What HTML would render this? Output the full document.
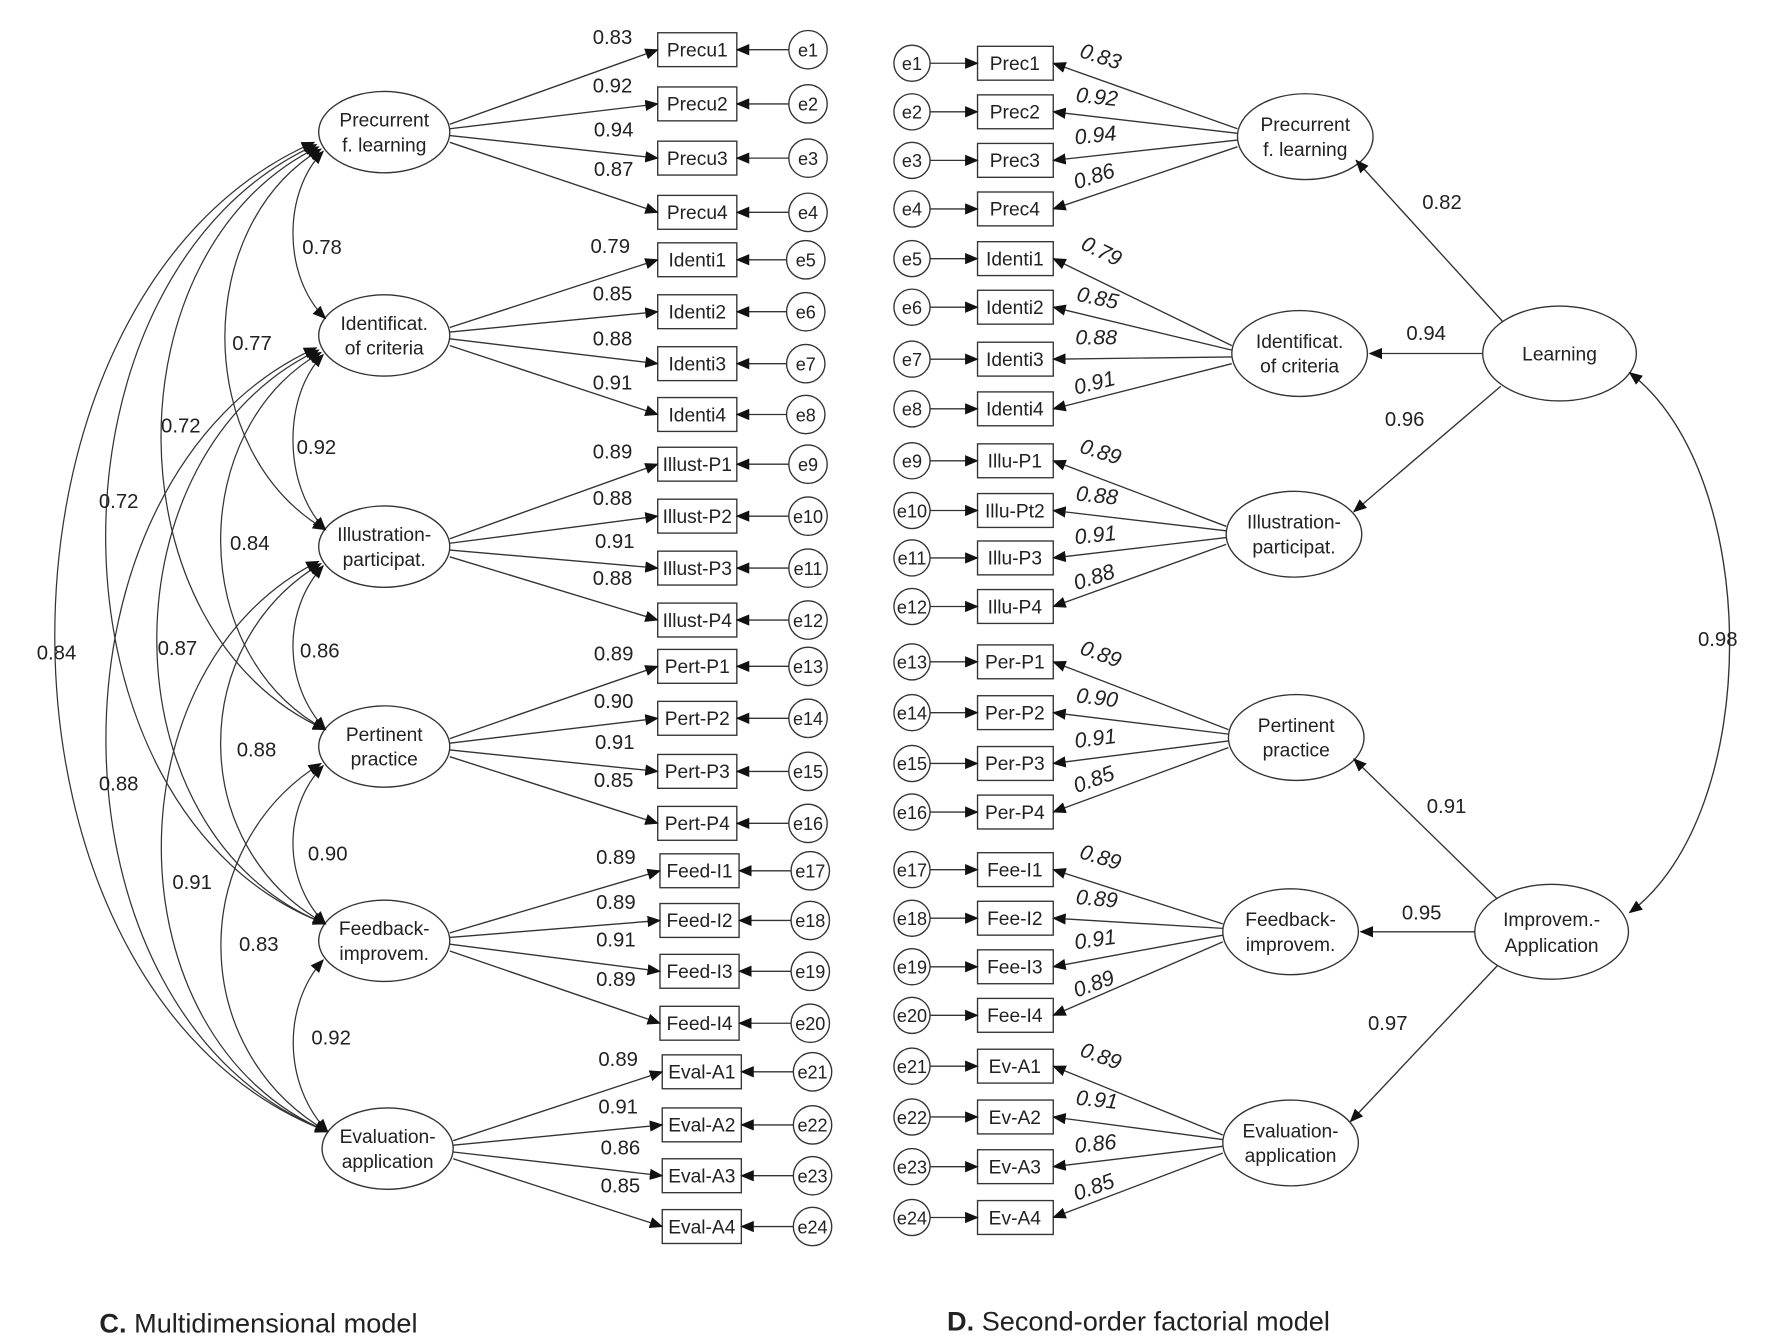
<!DOCTYPE html>
<html><head><meta charset="utf-8"><style>
html,body{margin:0;padding:0;background:#fff;}
svg{display:block;}
text{font-family:"Liberation Sans",Arial,sans-serif;fill:#222;}
.n{font-size:17px;text-anchor:middle;}
.l{font-size:18px;text-anchor:middle;}
.i{font-size:19px;font-style:italic;text-anchor:middle;}
.e{font-size:16px;text-anchor:middle;}
</style></head><body>
<svg width="1772" height="1344" viewBox="0 0 1568 1190" preserveAspectRatio="none" xmlns="http://www.w3.org/2000/svg">
<defs>
<marker id="a" markerWidth="12" markerHeight="10" refX="11" refY="5" orient="auto-start-reverse" markerUnits="userSpaceOnUse"><path d="M0,0 L12,5 L0,10 z" fill="#111"/></marker>
</defs>
<g stroke="#333" stroke-width="1.2" fill="none">
<!-- LEFT latent ellipses -->
<ellipse cx="340" cy="117" rx="58" ry="36"/>
<ellipse cx="340" cy="297" rx="58" ry="36"/>
<ellipse cx="340" cy="484" rx="58" ry="36"/>
<ellipse cx="340" cy="661" rx="58" ry="36"/>
<ellipse cx="340" cy="833" rx="58" ry="36"/>
<ellipse cx="343" cy="1017" rx="58" ry="36"/>
<!-- left boxes -->
<rect x="582" y="29" width="70" height="30"/><rect x="582" y="77" width="70" height="30"/><rect x="582" y="125" width="70" height="30"/><rect x="582" y="173" width="70" height="30"/>
<rect x="582" y="215" width="70" height="30"/><rect x="582" y="261" width="70" height="30"/><rect x="582" y="307" width="70" height="30"/><rect x="582" y="352" width="70" height="30"/>
<rect x="582" y="396" width="70" height="30"/><rect x="582" y="442" width="70" height="30"/><rect x="582" y="488" width="70" height="30"/><rect x="582" y="534" width="70" height="30"/>
<rect x="582" y="575" width="70" height="30"/><rect x="582" y="621" width="70" height="30"/><rect x="582" y="668" width="70" height="30"/><rect x="582" y="714" width="70" height="30"/>
<rect x="584" y="756" width="70" height="30"/><rect x="584" y="800" width="70" height="30"/><rect x="584" y="845" width="70" height="30"/><rect x="584" y="891" width="70" height="30"/>
<rect x="586" y="934" width="70" height="30"/><rect x="586" y="981" width="70" height="30"/><rect x="586" y="1026" width="70" height="30"/><rect x="586" y="1071" width="70" height="30"/>
<!-- left error circles -->
<circle cx="715" cy="44" r="17"/><circle cx="715" cy="92" r="17"/><circle cx="715" cy="140" r="17"/><circle cx="715" cy="188" r="17"/>
<circle cx="713" cy="230" r="17"/><circle cx="713" cy="276" r="17"/><circle cx="713" cy="322" r="17"/><circle cx="713" cy="367" r="17"/>
<circle cx="715" cy="411" r="17"/><circle cx="715" cy="457" r="17"/><circle cx="715" cy="503" r="17"/><circle cx="715" cy="549" r="17"/>
<circle cx="715" cy="590" r="17"/><circle cx="715" cy="636" r="17"/><circle cx="715" cy="683" r="17"/><circle cx="715" cy="729" r="17"/>
<circle cx="717" cy="771" r="17"/><circle cx="717" cy="815" r="17"/><circle cx="717" cy="860" r="17"/><circle cx="717" cy="906" r="17"/>
<circle cx="719" cy="949" r="17"/><circle cx="719" cy="996" r="17"/><circle cx="719" cy="1041" r="17"/><circle cx="719" cy="1086" r="17"/>
</g>
<g stroke="#333" stroke-width="1.2" fill="none" marker-end="url(#a)">
<!-- left loadings -->
<path d="M398,110 L582,44"/><path d="M398,114 L582,92"/><path d="M398,120 L582,140"/><path d="M398,126 L582,188"/>
<path d="M398,290 L582,230"/><path d="M398,294 L582,276"/><path d="M398,300 L582,322"/><path d="M398,306 L582,367"/>
<path d="M398,477 L582,411"/><path d="M398,481 L582,457"/><path d="M398,487 L582,503"/><path d="M398,493 L582,549"/>
<path d="M398,654 L582,590"/><path d="M398,658 L582,636"/><path d="M398,664 L582,683"/><path d="M398,670 L582,729"/>
<path d="M398,826 L584,771"/><path d="M398,830 L584,815"/><path d="M398,836 L584,860"/><path d="M398,842 L584,906"/>
<path d="M401,1010 L586,949"/><path d="M401,1014 L586,996"/><path d="M401,1020 L586,1041"/><path d="M401,1026 L586,1086"/>
<!-- left error arrows -->
<path d="M698,44 L652,44"/><path d="M698,92 L652,92"/><path d="M698,140 L652,140"/><path d="M698,188 L652,188"/>
<path d="M696,230 L652,230"/><path d="M696,276 L652,276"/><path d="M696,322 L652,322"/><path d="M696,367 L652,367"/>
<path d="M698,411 L652,411"/><path d="M698,457 L652,457"/><path d="M698,503 L652,503"/><path d="M698,549 L652,549"/>
<path d="M698,590 L652,590"/><path d="M698,636 L652,636"/><path d="M698,683 L652,683"/><path d="M698,729 L652,729"/>
<path d="M700,771 L654,771"/><path d="M700,815 L654,815"/><path d="M700,860 L654,860"/><path d="M700,906 L654,906"/>
<path d="M702,949 L656,949"/><path d="M702,996 L656,996"/><path d="M702,1041 L656,1041"/><path d="M702,1086 L656,1086"/>
</g>
<!-- covariance arcs -->
<g stroke="#333" stroke-width="1.1" fill="none" marker-start="url(#a)" marker-end="url(#a)">
<path d="M286,134 C250,170 250,245 288,282"/>
<path d="M286,314 C250,350 250,430 288,469"/>
<path d="M286,501 C250,540 250,605 288,646"/>
<path d="M286,678 C250,715 250,780 288,818"/>
<path d="M286,850 C250,890 250,960 290,1002"/>
<path d="M284,132 C170,200 170,400 288,469"/>
<path d="M284,312 C165,380 165,580 288,646"/>
<path d="M284,499 C165,570 165,750 288,818"/>
<path d="M284,676 C165,750 165,930 290,1002"/>
<path d="M282,130 C95,220 95,560 288,646"/>
<path d="M282,310 C90,400 90,740 288,818"/>
<path d="M282,497 C95,590 95,920 290,1002"/>
<path d="M280,128 C30,240 30,720 288,818"/>
<path d="M280,308 C30,420 30,900 290,1002"/>
<path d="M278,126 C-30,260 -30,880 290,1002"/>
</g>
<!-- left latent texts -->
<text class="n" x="340" y="112">Precurrent</text><text class="n" x="340" y="134">f. learning</text>
<text class="n" x="340" y="292">Identificat.</text><text class="n" x="340" y="314">of criteria</text>
<text class="n" x="340" y="479">Illustration-</text><text class="n" x="340" y="501">participat.</text>
<text class="n" x="340" y="656">Pertinent</text><text class="n" x="340" y="678">practice</text>
<text class="n" x="340" y="828">Feedback-</text><text class="n" x="340" y="850">improvem.</text>
<text class="n" x="343" y="1012">Evaluation-</text><text class="n" x="343" y="1034">application</text>
<!-- left box texts -->
<g class="n">
<text class="n" x="617" y="50">Precu1</text><text class="n" x="617" y="98">Precu2</text><text class="n" x="617" y="146">Precu3</text><text class="n" x="617" y="194">Precu4</text>
<text class="n" x="617" y="236">Identi1</text><text class="n" x="617" y="282">Identi2</text><text class="n" x="617" y="328">Identi3</text><text class="n" x="617" y="373">Identi4</text>
<text class="n" x="617" y="417">Illust-P1</text><text class="n" x="617" y="463">Illust-P2</text><text class="n" x="617" y="509">Illust-P3</text><text class="n" x="617" y="555">Illust-P4</text>
<text class="n" x="617" y="596">Pert-P1</text><text class="n" x="617" y="642">Pert-P2</text><text class="n" x="617" y="689">Pert-P3</text><text class="n" x="617" y="735">Pert-P4</text>
<text class="n" x="619" y="777">Feed-I1</text><text class="n" x="619" y="821">Feed-I2</text><text class="n" x="619" y="866">Feed-I3</text><text class="n" x="619" y="912">Feed-I4</text>
<text class="n" x="621" y="955">Eval-A1</text><text class="n" x="621" y="1002">Eval-A2</text><text class="n" x="621" y="1047">Eval-A3</text><text class="n" x="621" y="1092">Eval-A4</text>
</g>
<!-- left error texts -->
<text class="e" x="715" y="50">e1</text><text class="e" x="715" y="98">e2</text><text class="e" x="715" y="146">e3</text><text class="e" x="715" y="194">e4</text>
<text class="e" x="713" y="236">e5</text><text class="e" x="713" y="282">e6</text><text class="e" x="713" y="328">e7</text><text class="e" x="713" y="373">e8</text>
<text class="e" x="715" y="417">e9</text><text class="e" x="715" y="463">e10</text><text class="e" x="715" y="509">e11</text><text class="e" x="715" y="555">e12</text>
<text class="e" x="715" y="596">e13</text><text class="e" x="715" y="642">e14</text><text class="e" x="715" y="689">e15</text><text class="e" x="715" y="735">e16</text>
<text class="e" x="717" y="777">e17</text><text class="e" x="717" y="821">e18</text><text class="e" x="717" y="866">e19</text><text class="e" x="717" y="912">e20</text>
<text class="e" x="719" y="955">e21</text><text class="e" x="719" y="1002">e22</text><text class="e" x="719" y="1047">e23</text><text class="e" x="719" y="1092">e24</text>
<!-- left loading labels -->
<text class="l" x="542" y="39">0.83</text><text class="l" x="542" y="82">0.92</text><text class="l" x="543" y="121">0.94</text><text class="l" x="543" y="156">0.87</text>
<text class="l" x="540" y="224">0.79</text><text class="l" x="542" y="266">0.85</text><text class="l" x="542" y="306">0.88</text><text class="l" x="542" y="345">0.91</text>
<text class="l" x="542" y="406">0.89</text><text class="l" x="542" y="447">0.88</text><text class="l" x="544" y="485">0.91</text><text class="l" x="542" y="518">0.88</text>
<text class="l" x="543" y="585">0.89</text><text class="l" x="543" y="627">0.90</text><text class="l" x="544" y="663">0.91</text><text class="l" x="543" y="697">0.85</text>
<text class="l" x="545" y="765">0.89</text><text class="l" x="545" y="805">0.89</text><text class="l" x="545" y="838">0.91</text><text class="l" x="545" y="873">0.89</text>
<text class="l" x="547" y="944">0.89</text><text class="l" x="547" y="986">0.91</text><text class="l" x="549" y="1022">0.86</text><text class="l" x="549" y="1056">0.85</text>
<!-- covariance labels -->
<text class="l" x="285" y="225">0.78</text><text class="l" x="280" y="402">0.92</text><text class="l" x="283" y="582">0.86</text><text class="l" x="290" y="762">0.90</text><text class="l" x="293" y="925">0.92</text>
<text class="l" x="223" y="310">0.77</text><text class="l" x="221" y="487">0.84</text><text class="l" x="227" y="670">0.88</text><text class="l" x="229" y="842">0.83</text>
<text class="l" x="160" y="383">0.72</text><text class="l" x="157" y="580">0.87</text><text class="l" x="170" y="787">0.91</text>
<text class="l" x="105" y="450">0.72</text><text class="l" x="105" y="700">0.88</text>
<text class="l" x="50" y="584">0.84</text>

<!-- RIGHT MODEL -->
<g stroke="#333" stroke-width="1.2" fill="none">
<ellipse cx="1155" cy="121" rx="60" ry="38"/>
<ellipse cx="1150" cy="313" rx="60" ry="38"/>
<ellipse cx="1145" cy="473" rx="60" ry="38"/>
<ellipse cx="1147" cy="653" rx="60" ry="38"/>
<ellipse cx="1142" cy="825" rx="60" ry="38"/>
<ellipse cx="1142" cy="1012" rx="60" ry="38"/>
<ellipse cx="1380" cy="313" rx="68" ry="42"/>
<ellipse cx="1373" cy="825" rx="68" ry="42"/>
<rect x="865" y="41" width="67" height="30"/><rect x="865" y="84" width="67" height="30"/><rect x="865" y="127" width="67" height="30"/><rect x="865" y="170" width="67" height="30"/>
<rect x="865" y="214" width="67" height="30"/><rect x="865" y="257" width="67" height="30"/><rect x="865" y="303" width="67" height="30"/><rect x="865" y="347" width="67" height="30"/>
<rect x="865" y="393" width="67" height="30"/><rect x="865" y="437" width="67" height="30"/><rect x="865" y="479" width="67" height="30"/><rect x="865" y="522" width="67" height="30"/>
<rect x="865" y="571" width="67" height="30"/><rect x="865" y="616" width="67" height="30"/><rect x="865" y="661" width="67" height="30"/><rect x="865" y="704" width="67" height="30"/>
<rect x="865" y="755" width="67" height="30"/><rect x="865" y="798" width="67" height="30"/><rect x="865" y="841" width="67" height="30"/><rect x="865" y="884" width="67" height="30"/>
<rect x="865" y="929" width="67" height="30"/><rect x="865" y="974" width="67" height="30"/><rect x="865" y="1018" width="67" height="30"/><rect x="865" y="1063" width="67" height="30"/>
<circle cx="807" cy="56" r="16"/><circle cx="807" cy="99" r="16"/><circle cx="807" cy="142" r="16"/><circle cx="807" cy="185" r="16"/>
<circle cx="807" cy="229" r="16"/><circle cx="807" cy="272" r="16"/><circle cx="807" cy="318" r="16"/><circle cx="807" cy="362" r="16"/>
<circle cx="807" cy="408" r="16"/><circle cx="807" cy="452" r="16"/><circle cx="807" cy="494" r="16"/><circle cx="807" cy="537" r="16"/>
<circle cx="807" cy="586" r="16"/><circle cx="807" cy="631" r="16"/><circle cx="807" cy="676" r="16"/><circle cx="807" cy="719" r="16"/>
<circle cx="807" cy="770" r="16"/><circle cx="807" cy="813" r="16"/><circle cx="807" cy="856" r="16"/><circle cx="807" cy="899" r="16"/>
<circle cx="807" cy="944" r="16"/><circle cx="807" cy="989" r="16"/><circle cx="807" cy="1033" r="16"/><circle cx="807" cy="1078" r="16"/>
</g>
<g stroke="#333" stroke-width="1.2" fill="none" marker-end="url(#a)">
<path d="M823,56 L865,56"/><path d="M823,99 L865,99"/><path d="M823,142 L865,142"/><path d="M823,185 L865,185"/>
<path d="M823,229 L865,229"/><path d="M823,272 L865,272"/><path d="M823,318 L865,318"/><path d="M823,362 L865,362"/>
<path d="M823,408 L865,408"/><path d="M823,452 L865,452"/><path d="M823,494 L865,494"/><path d="M823,537 L865,537"/>
<path d="M823,586 L865,586"/><path d="M823,631 L865,631"/><path d="M823,676 L865,676"/><path d="M823,719 L865,719"/>
<path d="M823,770 L865,770"/><path d="M823,813 L865,813"/><path d="M823,856 L865,856"/><path d="M823,899 L865,899"/>
<path d="M823,944 L865,944"/><path d="M823,989 L865,989"/><path d="M823,1033 L865,1033"/><path d="M823,1078 L865,1078"/>
<path d="M1095,114 L932,56"/><path d="M1095,118 L932,99"/><path d="M1095,124 L932,142"/><path d="M1095,130 L932,185"/>
<path d="M1090,306 L932,229"/><path d="M1090,310 L932,272"/><path d="M1090,316 L932,318"/><path d="M1090,322 L932,362"/>
<path d="M1085,466 L932,408"/><path d="M1085,470 L932,452"/><path d="M1085,476 L932,494"/><path d="M1085,482 L932,537"/>
<path d="M1087,646 L932,586"/><path d="M1087,650 L932,631"/><path d="M1087,656 L932,676"/><path d="M1087,662 L932,719"/>
<path d="M1082,818 L932,770"/><path d="M1082,822 L932,813"/><path d="M1082,828 L932,856"/><path d="M1082,834 L932,899"/>
<path d="M1082,1005 L932,944"/><path d="M1082,1009 L932,989"/><path d="M1082,1015 L932,1033"/><path d="M1082,1021 L932,1078"/>
<path d="M1330,285 L1200,142"/>
<path d="M1312,313 L1212,313"/>
<path d="M1328,342 L1198,453"/>
<path d="M1325,796 L1198,672"/>
<path d="M1305,825 L1204,825"/>
<path d="M1325,855 L1195,993"/>
</g>
<path d="M1442,330 C1560,420 1560,720 1442,808" stroke="#333" stroke-width="1.2" fill="none" marker-start="url(#a)" marker-end="url(#a)"/>
<!-- right texts -->
<text class="n" x="1155" y="116">Precurrent</text><text class="n" x="1155" y="138">f. learning</text>
<text class="n" x="1150" y="308">Identificat.</text><text class="n" x="1150" y="330">of criteria</text>
<text class="n" x="1145" y="468">Illustration-</text><text class="n" x="1145" y="490">participat.</text>
<text class="n" x="1147" y="648">Pertinent</text><text class="n" x="1147" y="670">practice</text>
<text class="n" x="1142" y="820">Feedback-</text><text class="n" x="1142" y="842">improvem.</text>
<text class="n" x="1142" y="1007">Evaluation-</text><text class="n" x="1142" y="1029">application</text>
<text class="n" x="1380" y="319">Learning</text>
<text class="n" x="1373" y="820">Improvem.-</text><text class="n" x="1373" y="843">Application</text>
<text class="n" x="898" y="62">Prec1</text><text class="n" x="898" y="105">Prec2</text><text class="n" x="898" y="148">Prec3</text><text class="n" x="898" y="191">Prec4</text>
<text class="n" x="898" y="235">Identi1</text><text class="n" x="898" y="278">Identi2</text><text class="n" x="898" y="324">Identi3</text><text class="n" x="898" y="368">Identi4</text>
<text class="n" x="898" y="414">Illu-P1</text><text class="n" x="898" y="458">Illu-Pt2</text><text class="n" x="898" y="500">Illu-P3</text><text class="n" x="898" y="543">Illu-P4</text>
<text class="n" x="898" y="592">Per-P1</text><text class="n" x="898" y="637">Per-P2</text><text class="n" x="898" y="682">Per-P3</text><text class="n" x="898" y="725">Per-P4</text>
<text class="n" x="898" y="776">Fee-I1</text><text class="n" x="898" y="819">Fee-I2</text><text class="n" x="898" y="862">Fee-I3</text><text class="n" x="898" y="905">Fee-I4</text>
<text class="n" x="898" y="950">Ev-A1</text><text class="n" x="898" y="995">Ev-A2</text><text class="n" x="898" y="1039">Ev-A3</text><text class="n" x="898" y="1084">Ev-A4</text>
<text class="e" x="807" y="62">e1</text><text class="e" x="807" y="105">e2</text><text class="e" x="807" y="148">e3</text><text class="e" x="807" y="191">e4</text>
<text class="e" x="807" y="235">e5</text><text class="e" x="807" y="278">e6</text><text class="e" x="807" y="324">e7</text><text class="e" x="807" y="368">e8</text>
<text class="e" x="807" y="414">e9</text><text class="e" x="807" y="458">e10</text><text class="e" x="807" y="500">e11</text><text class="e" x="807" y="543">e12</text>
<text class="e" x="807" y="592">e13</text><text class="e" x="807" y="637">e14</text><text class="e" x="807" y="682">e15</text><text class="e" x="807" y="725">e16</text>
<text class="e" x="807" y="776">e17</text><text class="e" x="807" y="819">e18</text><text class="e" x="807" y="862">e19</text><text class="e" x="807" y="905">e20</text>
<text class="e" x="807" y="950">e21</text><text class="e" x="807" y="995">e22</text><text class="e" x="807" y="1039">e23</text><text class="e" x="807" y="1084">e24</text>
<!-- right italic loadings -->
<text class="i" transform="translate(972,56) rotate(18)">0.83</text>
<text class="i" transform="translate(970,92) rotate(6)">0.92</text>
<text class="i" transform="translate(970,126) rotate(-6)">0.94</text>
<text class="i" transform="translate(970,162) rotate(-18)">0.86</text>
<text class="i" transform="translate(972,228) rotate(26)">0.79</text>
<text class="i" transform="translate(970,270) rotate(12)">0.85</text>
<text class="i" transform="translate(970,305) rotate(0)">0.88</text>
<text class="i" transform="translate(970,345) rotate(-14)">0.91</text>
<text class="i" transform="translate(972,406) rotate(18)">0.89</text>
<text class="i" transform="translate(970,445) rotate(6)">0.88</text>
<text class="i" transform="translate(970,480) rotate(-6)">0.91</text>
<text class="i" transform="translate(970,517) rotate(-18)">0.88</text>
<text class="i" transform="translate(972,585) rotate(20)">0.89</text>
<text class="i" transform="translate(970,624) rotate(7)">0.90</text>
<text class="i" transform="translate(970,660) rotate(-7)">0.91</text>
<text class="i" transform="translate(970,696) rotate(-20)">0.85</text>
<text class="i" transform="translate(972,765) rotate(17)">0.89</text>
<text class="i" transform="translate(970,802) rotate(5)">0.89</text>
<text class="i" transform="translate(970,838) rotate(-8)">0.91</text>
<text class="i" transform="translate(970,877) rotate(-20)">0.89</text>
<text class="i" transform="translate(972,941) rotate(20)">0.89</text>
<text class="i" transform="translate(970,980) rotate(6)">0.91</text>
<text class="i" transform="translate(970,1019) rotate(-6)">0.86</text>
<text class="i" transform="translate(970,1057) rotate(-20)">0.85</text>
<!-- second order labels -->
<text class="l" x="1276" y="185">0.82</text>
<text class="l" x="1262" y="301">0.94</text>
<text class="l" x="1243" y="377">0.96</text>
<text class="l" x="1280" y="720">0.91</text>
<text class="l" x="1258" y="814">0.95</text>
<text class="l" x="1228" y="912">0.97</text>
<text class="l" x="1520" y="572">0.98</text>
<!-- captions -->
<text x="88" y="1180" style="font-size:24px;"><tspan style="font-weight:bold">C.</tspan> Multidimensional model</text>
<text x="838" y="1178" style="font-size:24px;"><tspan style="font-weight:bold">D.</tspan> Second-order factorial model</text>
</svg>
</body></html>
